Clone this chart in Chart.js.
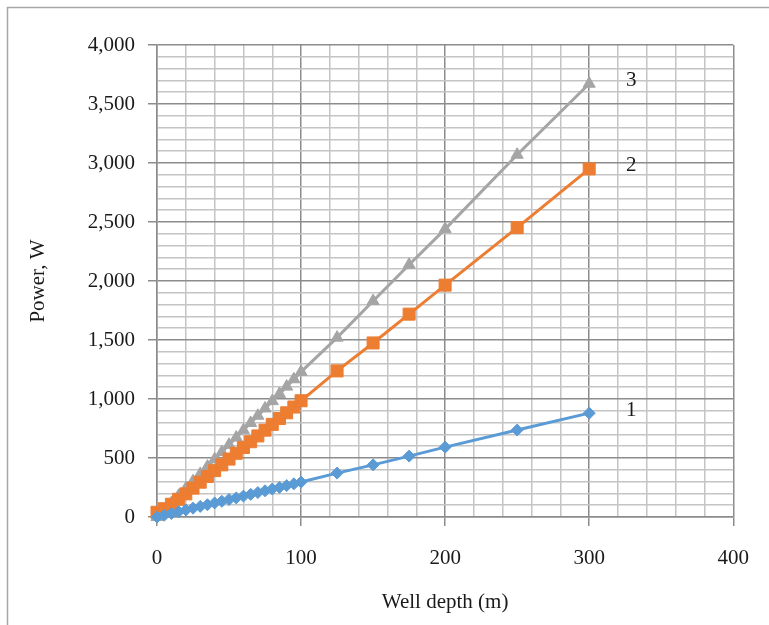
<!DOCTYPE html>
<html>
<head>
<meta charset="utf-8">
<script src="https://cdn.jsdelivr.net/npm/chart.js@4/dist/chart.umd.min.js"></script>
<style>
html,body{margin:0;padding:0;background:#fff;}
#c{display:block;}
</style>
</head>
<body>
<canvas id="c" width="769" height="625"></canvas>
<script>
const depths = [0,5,10,15,20,25,30,35,40,45,50,55,60,65,70,75,80,85,90,95,100,125,150,175,200,250,300];
const power1 = [0,15,30,45,60,75,90,104,119,133,148,162,177,192,207,222,237,251,266,281,296,372,442,516,592,737,880];
const power2 = [40,70,108,150,196,245,295,344,393,442,491,540,589,638,687,736,785,834,883,932,985,1238,1475,1719,1965,2452,2950];
const power3 = [0,58,118,180,242,303,365,427,489,550,612,673,735,797,858,920,982,1043,1105,1167,1230,1520,1830,2138,2440,3070,3672];
const seriesNames = ['1','2','3'];
const xTickValues = [0,100,200,300,400];
const yTickValues = [0,500,1000,1500,2000,2500,3000,3500,4000];
const xTitle = 'Well depth (m)';
const yTitle = 'Power, W';

const colors = ['#5B9BD5','#ED7D31','#A5A5A5'];
const shapes = ['rectRot','rect','triangle'];
const radii = [6,8.5,7];
const FONT = "'Liberation Serif', 'Times New Roman', serif";
const MAJOR = '#8c8c8c';
const MINOR = '#c4c4c4';

function mk(xs, ys){ return xs.map((x,i)=>({x:x,y:ys[i]})); }
const allSeries = [power1, power2, power3];

const datasets = allSeries.map((s,i)=>({
  label: seriesNames[i],
  data: mk(depths, s),
  borderColor: colors[i],
  backgroundColor: colors[i],
  borderWidth: 3,
  pointStyle: shapes[i],
  pointRadius: radii[i],
  pointBorderWidth: 1,
  pointBackgroundColor: colors[i],
  pointBorderColor: colors[i],
  showLine: true,
  tension: 0,
  clip: false
}));

const frame = {
  id: 'frame',
  beforeDraw(chart){
    const c = chart.ctx;
    c.save();
    c.fillStyle = '#fff';
    c.fillRect(0,0,chart.width,chart.height);
    c.strokeStyle = '#a6a6a6';
    c.lineWidth = 1.5;
    c.strokeRect(7.5,7.5,900,800);
    c.restore();
  },
  afterDatasetsDraw(chart){
    const c = chart.ctx;
    const xs = chart.scales.x, ys = chart.scales.y;
    c.save();
    c.font = '21px ' + FONT;
    c.fillStyle = '#1a1a1a';
    c.textAlign = 'center';
    c.textBaseline = 'middle';
    allSeries.forEach((s,i)=>{
      const lx = depths[depths.length-1];
      const ly = s[s.length-1];
      c.fillText(seriesNames[i], xs.getPixelForValue(lx) + 42, ys.getPixelForValue(ly) - 3);
    });
    c.restore();
  }
};

new Chart(document.getElementById('c'), {
  type: 'scatter',
  data: { datasets },
  plugins: [frame],
  options: {
    responsive: false,
    animation: false,
    layout: { padding: { top: 45, right: 34, bottom: 0, left: 0 } },
    plugins: { legend: { display: false }, tooltip: { enabled: false } },
    scales: {
      x: {
        type: 'linear',
        min: 0, max: 400,
        afterBuildTicks(scale){
          const t=[]; for(let v=0; v<=400; v+=20) t.push({value:v}); scale.ticks=t;
        },
        afterFit(scale){ scale.height = 108; },
        ticks: {
          autoSkip: false, maxRotation: 0,
          font: { family: FONT, size: 21 }, color: '#1a1a1a',
          padding: 20,
          callback: (v)=> xTickValues.includes(v) ? String(v) : ''
        },
        grid: {
          color: (ctx)=> (ctx.tick && ctx.tick.value % 100 === 0) ? MAJOR : MINOR,
          lineWidth: 1.5,
          tickColor: (ctx)=> (ctx.tick && ctx.tick.value % 100 === 0) ? MAJOR : 'rgba(0,0,0,0)',
          tickLength: 9,
          drawTicks: true
        },
        border: { display: true, color: MAJOR, width: 1.5 },
        title: {
          display: true, text: xTitle,
          font: { family: FONT, size: 21 }, color: '#1a1a1a',
          padding: { top: 0, bottom: 10 }
        }
      },
      y: {
        type: 'linear',
        min: 0, max: 4000,
        afterBuildTicks(scale){
          const t=[]; for(let v=0; v<=4000; v+=100) t.push({value:v}); scale.ticks=t;
        },
        afterFit(scale){ scale.width = 157; },
        ticks: {
          autoSkip: false,
          font: { family: FONT, size: 21 }, color: '#1a1a1a',
          padding: 13,
          callback: (v)=> yTickValues.includes(v) ? v.toLocaleString('en-US') : ''
        },
        grid: {
          color: (ctx)=> (ctx.tick && ctx.tick.value % 500 === 0) ? MAJOR : MINOR,
          lineWidth: 1.5,
          tickColor: (ctx)=> (ctx.tick && ctx.tick.value % 500 === 0) ? MAJOR : 'rgba(0,0,0,0)',
          tickLength: 9
        },
        border: { display: true, color: MAJOR, width: 1.5 },
        title: {
          display: true, text: yTitle,
          font: { family: FONT, size: 21 }, color: '#1a1a1a',
          padding: { top: 26, bottom: 0 }
        }
      }
    }
  }
});
</script>
</body>
</html>
